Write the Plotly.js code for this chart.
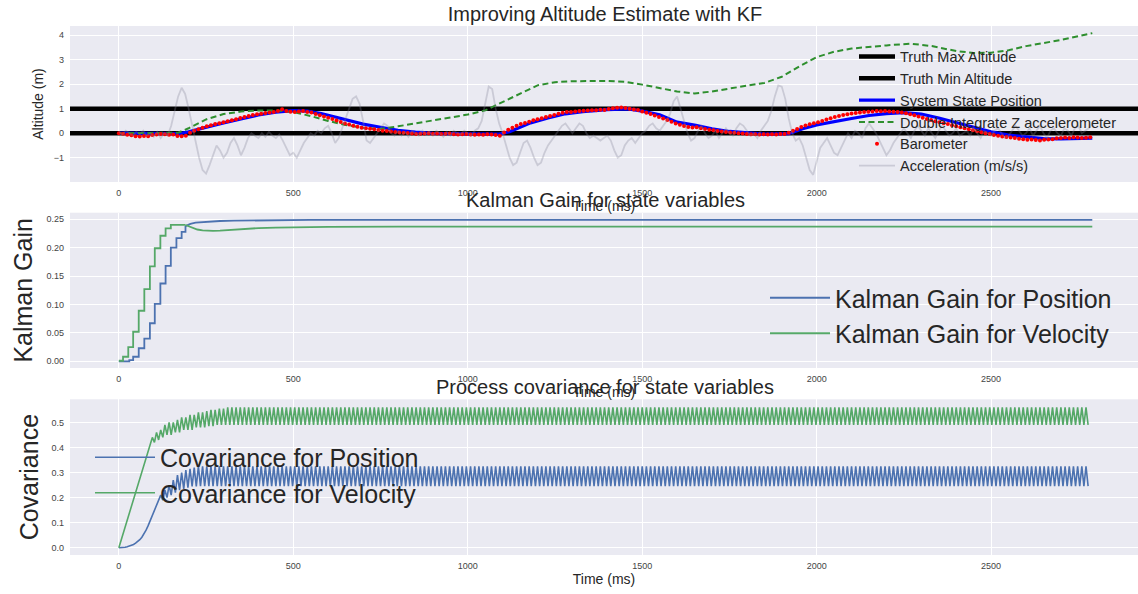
<!DOCTYPE html>
<html><head><meta charset="utf-8">
<script src="https://cdn.plot.ly/plotly-3.0.1.min.js"></script>
<style>html,body{margin:0;padding:0;overflow:hidden;background:#fff}#chart{width:1138px;height:594px}</style>
</head><body><div id="chart"></div>
<script>
// ---------- Panel 1: altitude ----------
const truthMax = 1;
const truthMin = 0;
const posT = [0,50,100,150,175,200,250,300,350,400,450,500,540,580,620,660,700,750,800,850,900,1000,1090,1120,1180,1230,1280,1330,1400,1460,1500,1550,1600,1650,1700,1750,1800,1850,1920,1960,2000,2050,2100,2150,2200,2250,2300,2350,2400,2450,2500,2550,2600,2650,2700,2790];
const posV = [0,-0.01,-0.03,-0.03,-0.02,0.06,0.25,0.42,0.58,0.74,0.86,0.92,0.9,0.8,0.66,0.52,0.37,0.24,0.12,0.04,-0.01,-0.03,-0.04,0.06,0.42,0.62,0.79,0.88,0.96,0.99,0.9,0.75,0.45,0.33,0.18,0.07,0.0,-0.04,-0.02,0.18,0.34,0.48,0.6,0.72,0.8,0.84,0.78,0.62,0.44,0.24,0.06,-0.08,-0.16,-0.22,-0.23,-0.2];
const dblT = [0,100,170,200,250,300,350,400,450,500,550,600,650,700,750,800,850,900,950,1000,1050,1100,1150,1200,1250,1300,1400,1450,1500,1550,1600,1650,1700,1750,1800,1850,1900,1950,2000,2050,2100,2150,2200,2270,2330,2400,2450,2500,2550,2600,2700,2790];
const dblV = [0,0,0.02,0.2,0.56,0.78,0.88,0.93,0.93,0.86,0.7,0.5,0.33,0.22,0.17,0.28,0.4,0.52,0.63,0.76,0.93,1.28,1.62,1.95,2.08,2.12,2.13,2.1,1.98,1.85,1.7,1.62,1.7,1.82,1.93,2.05,2.3,2.72,3.1,3.32,3.45,3.52,3.58,3.65,3.55,3.35,3.27,3.28,3.38,3.55,3.8,4.08];
const baroStart = 0, baroStep = 12;
const baro = [
0.00,-0.02,-0.06,-0.08,-0.12,-0.13,-0.11,-0.12,-0.07,-0.05,
-0.03,-0.04,-0.06,-0.05,-0.11,-0.12,-0.1,0.02,0.1,0.16,
0.22,0.28,0.32,0.37,0.41,0.45,0.49,0.53,0.57,0.62,
0.66,0.7,0.74,0.77,0.79,0.82,0.84,0.86,0.9,0.98,
0.9,0.87,0.86,0.88,0.9,0.86,0.84,0.78,0.73,0.68,
0.63,0.58,0.52,0.46,0.4,0.35,0.3,0.26,0.22,0.2,
0.18,0.16,0.13,0.1,0.09,0.07,0.05,0.03,0.02,0.01,
-0.01,-0.03,-0.02,-0.01,0.0,-0.02,-0.01,-0.03,-0.02,-0.01,
-0.04,-0.05,-0.04,-0.03,-0.05,-0.06,-0.05,-0.06,-0.04,-0.05,
-0.07,-0.1,0.03,0.14,0.22,0.3,0.37,0.42,0.47,0.53,
0.57,0.61,0.66,0.7,0.74,0.79,0.83,0.86,0.86,0.88,
0.9,0.91,0.93,0.94,0.94,0.96,0.95,0.99,1.02,1.04,
1.05,1.03,1.0,0.97,0.95,0.88,0.83,0.78,0.72,0.66,
0.6,0.54,0.47,0.4,0.34,0.29,0.25,0.23,0.24,0.2,
0.17,0.14,0.12,0.09,0.07,0.05,0.03,0.02,0.0,-0.01,
-0.03,-0.04,-0.04,-0.05,-0.04,-0.05,-0.04,-0.05,-0.03,-0.03,
0.02,0.1,0.17,0.25,0.31,0.36,0.41,0.45,0.5,0.56,
0.61,0.66,0.7,0.74,0.77,0.8,0.82,0.84,0.86,0.87,
0.88,0.9,0.89,0.9,0.88,0.87,0.86,0.84,0.81,0.77,
0.73,0.68,0.63,0.58,0.54,0.49,0.45,0.41,0.37,0.32,
0.28,0.24,0.2,0.16,0.12,0.08,0.04,0.0,-0.03,-0.07,
-0.1,-0.13,-0.16,-0.18,-0.2,-0.23,-0.25,-0.27,-0.26,-0.28,
-0.3,-0.27,-0.26,-0.25,-0.21,-0.2,-0.18,-0.2,-0.17,-0.18,
-0.2,-0.19,-0.17];
const accelStart = 0, accelStep = 10;
const accel = [
0.05,-0.05,0.1,0.0,-0.1,0.05,-0.05,0.1,-0.1,0.0,
-0.15,0.05,-0.2,0.0,-0.1,0.3,0.9,1.5,1.85,1.6,
1.0,0.3,-0.4,-1.0,-1.5,-1.65,-1.3,-0.9,-0.5,-0.7,
-1.0,-0.8,-0.4,-0.2,-0.5,-0.9,-0.6,-0.2,0.0,-0.1,
-0.2,0.0,-0.15,0.05,-0.1,-0.2,-0.05,-0.3,-0.6,-0.9,
-0.8,-1.0,-0.7,-0.4,-0.2,0.0,-0.1,0.1,0.0,0.2,
0.3,0.0,-0.4,-0.2,0.2,0.6,1.0,1.4,1.5,1.2,
0.5,-0.3,-0.4,-0.2,0.0,0.2,0.4,0.3,0.0,-0.1,
0.1,-0.1,0.05,-0.15,0.1,0.0,-0.1,0.1,-0.05,0.05,
-0.1,0.1,0.0,-0.15,0.05,-0.1,0.1,0.0,-0.05,0.1,
0.0,-0.1,0.1,0.2,0.5,1.2,1.9,1.8,1.0,0.4,
0.0,-0.5,-1.0,-1.3,-1.2,-0.8,-0.4,-0.3,-0.6,-1.0,
-1.3,-1.2,-0.8,-0.5,-0.3,-0.1,0.1,0.3,0.4,0.2,
0.0,0.2,0.4,0.3,0.0,-0.2,-0.1,-0.2,-0.3,-0.2,
-0.1,-0.3,-0.7,-1.0,-0.9,-0.5,-0.3,-0.2,-0.4,-0.2,
0.0,0.1,0.3,0.4,0.2,0.1,0.3,0.5,0.8,1.3,
1.5,1.0,0.4,0.0,-0.3,-0.2,0.1,0.3,0.0,-0.2,
-0.1,0.1,-0.2,0.0,0.2,0.0,-0.1,0.2,0.4,0.3,
0.1,-0.1,0.0,-0.2,0.1,0.3,0.5,0.9,1.5,1.95,
1.9,1.4,0.6,0.0,-0.3,-0.2,-0.5,-1.0,-1.5,-1.7,
-1.2,-0.6,-0.4,-0.2,-0.5,-0.8,-0.9,-0.6,-0.3,0.0,
-0.2,0.1,0.0,-0.2,0.2,0.4,0.2,0.0,-0.3,-0.6,
-0.9,-0.7,-0.4,-0.2,0.0,0.2,0.0,-0.2,0.1,0.3,
0.1,-0.1,0.2,0.0,-0.2,0.1,0.3,0.1,-0.1,0.0,
0.2,-0.1,0.0,0.1,-0.1,0.2,0.0,-0.2,0.1,0.0,
-0.1,0.1,0.2,0.0,-0.2,-0.1,0.1,0.3,0.1,-0.1,
0.0,0.2,-0.1,0.1,0.3,0.0,-0.2,0.1,0.2,0.0,
-0.1,0.2,0.1,-0.1,0.2,0.3,0.0,0.1,0.2,0.4];

// ---------- Panel 2: Kalman gain ----------
const gainPosT = [0,13,30,41,57,73,89,103,119,134,149,165,180,191,205,220,240,260,290,330,380,450,550,700,1000,1500,2000,2500,2790];
const gainPosV = [0,0,0.002,0.008,0.023,0.040,0.067,0.101,0.137,0.168,0.200,0.217,0.228,0.238,0.242,0.244,0.245,0.246,0.247,0.2475,0.248,0.2485,0.249,0.249,0.249,0.249,0.249,0.249,0.249];
const gainVelT = [0,12,27,41,57,73,89,103,119,134,149,165,180,191,200,212,225,240,255,270,290,320,360,400,450,500,600,800,1200,2000,2790];
const gainVelV = [0.001,0.008,0.025,0.052,0.089,0.127,0.167,0.199,0.221,0.234,0.240,0.240,0.240,0.240,0.238,0.235,0.232,0.2305,0.2298,0.2296,0.23,0.2315,0.233,0.2345,0.2355,0.236,0.2365,0.237,0.237,0.237,0.237];
const gainStepEnd = 191;

// ---------- Panel 3: process covariance ----------
const covStart = 0, covStep = 6;
const covPos = [
0,0.0,0.001,0.002,0.004,0.006,0.009,0.013,0.018,0.024,0.032,0.042,0.055,0.07,0.088,0.108,0.13,0.15,0.165,0.185,
0.21,0.19,0.23,0.2,0.25,0.21,0.27,0.22,0.29,0.23,0.3,0.235,0.31,0.24,0.315,0.245,0.32,0.245,
0.325,0.246,0.325,0.246,0.325,0.246,0.325,0.246,0.325,0.246,0.325,0.246,0.325,0.246,0.325,0.246,0.325,0.246,0.325,0.246,
0.325,0.246,0.325,0.246,0.325,0.246,0.325,0.246,0.325,0.246,0.325,0.246,0.325,0.246,0.325,0.246,0.325,0.246,0.325,0.246,
0.325,0.246,0.325,0.246,0.325,0.246,0.325,0.246,0.325,0.246,0.325,0.246,0.325,0.246,0.325,0.246,0.325,0.246,0.325,0.246,
0.325,0.246,0.325,0.246,0.325,0.246,0.325,0.246,0.325,0.246,0.325,0.246,0.325,0.246,0.325,0.246,0.325,0.246,0.325,0.246,
0.325,0.246,0.325,0.246,0.325,0.246,0.325,0.246,0.325,0.246,0.325,0.246,0.325,0.246,0.325,0.246,0.325,0.246,0.325,0.246,
0.325,0.246,0.325,0.246,0.325,0.246,0.325,0.246,0.325,0.246,0.325,0.246,0.325,0.246,0.325,0.246,0.325,0.246,0.325,0.246,
0.325,0.246,0.325,0.246,0.325,0.246,0.325,0.246,0.325,0.246,0.325,0.246,0.325,0.246,0.325,0.246,0.325,0.246,0.325,0.246,
0.325,0.246,0.325,0.246,0.325,0.246,0.325,0.246,0.325,0.246,0.325,0.246,0.325,0.246,0.325,0.246,0.325,0.246,0.325,0.246,
0.325,0.246,0.325,0.246,0.325,0.246,0.325,0.246,0.325,0.246,0.325,0.246,0.325,0.246,0.325,0.246,0.325,0.246,0.325,0.246,
0.325,0.246,0.325,0.246,0.325,0.246,0.325,0.246,0.325,0.246,0.325,0.246,0.325,0.246,0.325,0.246,0.325,0.246,0.325,0.246,
0.325,0.246,0.325,0.246,0.325,0.246,0.325,0.246,0.325,0.246,0.325,0.246,0.325,0.246,0.325,0.246,0.325,0.246,0.325,0.246,
0.325,0.246,0.325,0.246,0.325,0.246,0.325,0.246,0.325,0.246,0.325,0.246,0.325,0.246,0.325,0.246,0.325,0.246,0.325,0.246,
0.325,0.246,0.325,0.246,0.325,0.246,0.325,0.246,0.325,0.246,0.325,0.246,0.325,0.246,0.325,0.246,0.325,0.246,0.325,0.246,
0.325,0.246,0.325,0.246,0.325,0.246,0.325,0.246,0.325,0.246,0.325,0.246,0.325,0.246,0.325,0.246,0.325,0.246,0.325,0.246,
0.325,0.246,0.325,0.246,0.325,0.246,0.325,0.246,0.325,0.246,0.325,0.246,0.325,0.246,0.325,0.246,0.325,0.246,0.325,0.246,
0.325,0.246,0.325,0.246,0.325,0.246,0.325,0.246,0.325,0.246,0.325,0.246,0.325,0.246,0.325,0.246,0.325,0.246,0.325,0.246,
0.325,0.246,0.325,0.246,0.325,0.246,0.325,0.246,0.325,0.246,0.325,0.246,0.325,0.246,0.325,0.246,0.325,0.246,0.325,0.246,
0.325,0.246,0.325,0.246,0.325,0.246,0.325,0.246,0.325,0.246,0.325,0.246,0.325,0.246,0.325,0.246,0.325,0.246,0.325,0.246,
0.325,0.246,0.325,0.246,0.325,0.246,0.325,0.246,0.325,0.246,0.325,0.246,0.325,0.246,0.325,0.246,0.325,0.246,0.325,0.246,
0.325,0.246,0.325,0.246,0.325,0.246,0.325,0.246,0.325,0.246,0.325,0.246,0.325,0.246,0.325,0.246,0.325,0.246,0.325,0.246,
0.325,0.246,0.325,0.246,0.325,0.246,0.325,0.246,0.325,0.246,0.325,0.246,0.325,0.246,0.325,0.246,0.325,0.246,
0.325,0.246,0.325,0.246,0.325,0.246,0.325,0.246];
const covVel = [
0,0.028,0.056,0.084,0.112,0.14,0.168,0.196,0.224,0.252,0.28,0.308,0.336,0.364,0.392,0.42,
0.44,0.42,0.46,0.43,0.47,0.44,0.49,0.45,0.5,0.45,0.5,0.46,0.51,0.46,0.52,0.47,0.52,0.47,0.53,0.47,0.53,0.48,0.54,0.48,0.54,0.48,0.545,0.485,0.55,0.485,0.55,0.49,0.555,0.49,0.555,0.49,0.56,0.49,
0.56,0.49,0.56,0.49,0.56,0.49,0.56,0.49,0.56,0.49,0.56,0.49,0.56,0.49,0.56,0.49,0.56,0.49,0.56,0.49,
0.56,0.49,0.56,0.49,0.56,0.49,0.56,0.49,0.56,0.49,0.56,0.49,0.56,0.49,0.56,0.49,0.56,0.49,0.56,0.49,
0.56,0.49,0.56,0.49,0.56,0.49,0.56,0.49,0.56,0.49,0.56,0.49,0.56,0.49,0.56,0.49,0.56,0.49,0.56,0.49,
0.56,0.49,0.56,0.49,0.56,0.49,0.56,0.49,0.56,0.49,0.56,0.49,0.56,0.49,0.56,0.49,0.56,0.49,0.56,0.49,
0.56,0.49,0.56,0.49,0.56,0.49,0.56,0.49,0.56,0.49,0.56,0.49,0.56,0.49,0.56,0.49,0.56,0.49,0.56,0.49,
0.56,0.49,0.56,0.49,0.56,0.49,0.56,0.49,0.56,0.49,0.56,0.49,0.56,0.49,0.56,0.49,0.56,0.49,0.56,0.49,
0.56,0.49,0.56,0.49,0.56,0.49,0.56,0.49,0.56,0.49,0.56,0.49,0.56,0.49,0.56,0.49,0.56,0.49,0.56,0.49,
0.56,0.49,0.56,0.49,0.56,0.49,0.56,0.49,0.56,0.49,0.56,0.49,0.56,0.49,0.56,0.49,0.56,0.49,0.56,0.49,
0.56,0.49,0.56,0.49,0.56,0.49,0.56,0.49,0.56,0.49,0.56,0.49,0.56,0.49,0.56,0.49,0.56,0.49,0.56,0.49,
0.56,0.49,0.56,0.49,0.56,0.49,0.56,0.49,0.56,0.49,0.56,0.49,0.56,0.49,0.56,0.49,0.56,0.49,0.56,0.49,
0.56,0.49,0.56,0.49,0.56,0.49,0.56,0.49,0.56,0.49,0.56,0.49,0.56,0.49,0.56,0.49,0.56,0.49,0.56,0.49,
0.56,0.49,0.56,0.49,0.56,0.49,0.56,0.49,0.56,0.49,0.56,0.49,0.56,0.49,0.56,0.49,0.56,0.49,0.56,0.49,
0.56,0.49,0.56,0.49,0.56,0.49,0.56,0.49,0.56,0.49,0.56,0.49,0.56,0.49,0.56,0.49,0.56,0.49,0.56,0.49,
0.56,0.49,0.56,0.49,0.56,0.49,0.56,0.49,0.56,0.49,0.56,0.49,0.56,0.49,0.56,0.49,0.56,0.49,0.56,0.49,
0.56,0.49,0.56,0.49,0.56,0.49,0.56,0.49,0.56,0.49,0.56,0.49,0.56,0.49,0.56,0.49,0.56,0.49,0.56,0.49,
0.56,0.49,0.56,0.49,0.56,0.49,0.56,0.49,0.56,0.49,0.56,0.49,0.56,0.49,0.56,0.49,0.56,0.49,0.56,0.49,
0.56,0.49,0.56,0.49,0.56,0.49,0.56,0.49,0.56,0.49,0.56,0.49,0.56,0.49,0.56,0.49,0.56,0.49,0.56,0.49,
0.56,0.49,0.56,0.49,0.56,0.49,0.56,0.49,0.56,0.49,0.56,0.49,0.56,0.49,0.56,0.49,0.56,0.49,0.56,0.49,
0.56,0.49,0.56,0.49,0.56,0.49,0.56,0.49,0.56,0.49,0.56,0.49,0.56,0.49,0.56,0.49,0.56,0.49,0.56,0.49,
0.56,0.49,0.56,0.49,0.56,0.49,0.56,0.49,0.56,0.49,0.56,0.49,0.56,0.49,0.56,0.49,0.56,0.49,
0.56,0.49,0.56,0.49,0.56,0.49,0.56,0.49,0.56,0.49,0.56,0.49];

// ---------- axis settings ----------
const xRange = [-140, 2921];
const xTicks = [0,500,1000,1500,2000,2500];

const FONT = 'Liberation Sans, Arial, Helvetica, sans-serif';
const TXT = '#262626';
const BLUE = '#4C72B0', GREEN = '#55A868';

function split(t, v, tEnd) {
  const a = {x:[],y:[]}, b = {x:[],y:[]};
  t.forEach((tt,i)=>{ if (tt<=tEnd){a.x.push(tt);a.y.push(v[i]);} if (tt>=tEnd){b.x.push(tt);b.y.push(v[i]);} });
  return [a,b];
}
const [gp1, gp2] = split(gainPosT, gainPosV, gainStepEnd);
const [gv1, gv2] = split(gainVelT, gainVelV, gainStepEnd);

const traces = [
  {type:'scatter', mode:'lines', x:xRange, y:[truthMax,truthMax], xaxis:'x', yaxis:'y', name:'Truth Max Altitude', line:{color:'#000',width:4.5}, legend:'legend'},
  {type:'scatter', mode:'lines', x:xRange, y:[truthMin,truthMin], xaxis:'x', yaxis:'y', name:'Truth Min Altitude', line:{color:'#000',width:4.5}, legend:'legend'},
  {type:'scatter', mode:'lines', x:posT, y:posV, xaxis:'x', yaxis:'y', name:'System State Position', line:{color:'#0000ff',width:3.2}, legend:'legend'},
  {type:'scatter', mode:'lines', x:dblT, y:dblV, xaxis:'x', yaxis:'y', name:'Double Integrate Z accelerometer', line:{color:'#2e8f2e',width:2,dash:'6px,3.5px'}, legend:'legend'},
  {type:'scatter', mode:'markers', x0:baroStart, dx:baroStep, y:baro, xaxis:'x', yaxis:'y', name:'Barometer', marker:{color:'#ff0000',size:4}, legend:'legend'},
  {type:'scatter', mode:'lines', x0:accelStart, dx:accelStep, y:accel, xaxis:'x', yaxis:'y', name:'Acceleration (m/s/s)', line:{color:'rgba(130,130,150,0.3)',width:1.8}, legend:'legend'},

  {type:'scatter', mode:'lines', x:gp1.x, y:gp1.y, xaxis:'x2', yaxis:'y2', name:'Kalman Gain for Position', legendgroup:'kp', line:{color:BLUE,width:1.8,shape:'hv'}, legend:'legend2'},
  {type:'scatter', mode:'lines', x:gp2.x, y:gp2.y, xaxis:'x2', yaxis:'y2', name:'Kalman Gain for Position', legendgroup:'kp', showlegend:false, line:{color:BLUE,width:1.8}, legend:'legend2'},
  {type:'scatter', mode:'lines', x:gv1.x, y:gv1.y, xaxis:'x2', yaxis:'y2', name:'Kalman Gain for Velocity', legendgroup:'kv', line:{color:GREEN,width:1.8,shape:'hv'}, legend:'legend2'},
  {type:'scatter', mode:'lines', x:gv2.x, y:gv2.y, xaxis:'x2', yaxis:'y2', name:'Kalman Gain for Velocity', legendgroup:'kv', showlegend:false, line:{color:GREEN,width:1.8}, legend:'legend2'},

  {type:'scatter', mode:'lines', x0:covStart, dx:covStep, y:covPos, xaxis:'x3', yaxis:'y3', name:'Covariance for Position', line:{color:BLUE,width:1.6}, legend:'legend3'},
  {type:'scatter', mode:'lines', x0:covStart, dx:covStep, y:covVel, xaxis:'x3', yaxis:'y3', name:'Covariance for Velocity', line:{color:GREEN,width:1.6}, legend:'legend3'}
];

function xax(anchor) {
  return {domain:[70/1138,1], anchor:anchor, range:xRange, tickvals:xTicks, showgrid:true, gridcolor:'#fff', gridwidth:1,
    zeroline:false, showline:false, ticks:'', ticklabelstandoff:4, tickfont:{size:9,color:'#444',family:FONT},
    title:{text:'Time (ms)', font:{size:14,color:TXT,family:FONT}, standoff:3}, automargin:false};
}
function yax(anchor, domain, range, tickvals, fmt, title, tsize, standoff) {
  return {domain:domain, anchor:anchor, range:range, tickvals:tickvals, tickformat:fmt, showgrid:true, gridcolor:'#fff', gridwidth:1,
    zeroline:false, showline:false, ticks:'', ticklabelstandoff:5, tickfont:{size:9,color:'#444',family:FONT},
    title:{text:title, font:{size:tsize,color:TXT,family:FONT}, standoff:standoff}, automargin:false};
}

const layout = {
  width:1138, height:594, margin:{l:0,r:0,t:0,b:0},
  paper_bgcolor:'#fff', plot_bgcolor:'#EAEAF2',
  font:{family:FONT, color:TXT},
  title:{text:'Improving Altitude Estimate with KF', x:605/1138, xanchor:'center', y:1-14/594, yanchor:'middle', font:{size:20,color:TXT,family:FONT}},
  xaxis: xax('y'),
  xaxis2: xax('y2'),
  xaxis3: xax('y3'),
  yaxis: yax('x', [1-182/594, 1-26/594], [-1.99,4.37], [-1,0,1,2,3,4], '', 'Altitude (m)', 14, 6),
  yaxis2: yax('x2', [1-368/594, 1-212.7/594], [-0.0118,0.2616], [0,0.05,0.1,0.15,0.2,0.25], '.2f', 'Kalman Gain', 25, 6),
  yaxis3: yax('x3', [1-555/594, 1-399.3/594], [-0.029,0.592], [0,0.1,0.2,0.3,0.4,0.5], '.1f', 'Covariance', 25, 5),
  annotations:[
    {text:'Kalman Gain for state variables', xref:'paper', yref:'paper', x:605/1138, y:1-200/594, xanchor:'center', yanchor:'middle', showarrow:false, font:{size:20,color:TXT,family:FONT}},
    {text:'Process covariance for state variables', xref:'paper', yref:'paper', x:605/1138, y:1-387/594, xanchor:'center', yanchor:'middle', showarrow:false, font:{size:20,color:TXT,family:FONT}}
  ],
  legend:{x:854/1138, xanchor:'left', y:1-40.5/594, yanchor:'top', bgcolor:'rgba(0,0,0,0)', font:{size:14.5,color:TXT,family:FONT}, tracegroupgap:0, itemwidth:36},
  legend2:{x:765/1138, xanchor:'left', y:1-275/594, yanchor:'top', bgcolor:'rgba(0,0,0,0)', font:{size:25,color:TXT,family:FONT}, tracegroupgap:0, itemwidth:60},
  legend3:{x:90/1138, xanchor:'left', y:1-434.5/594, yanchor:'top', bgcolor:'rgba(0,0,0,0)', font:{size:25,color:TXT,family:FONT}, tracegroupgap:0, itemwidth:60},
  showlegend:true
};

Plotly.newPlot('chart', traces, layout, {staticPlot:true, displayModeBar:false});
</script></body></html>
